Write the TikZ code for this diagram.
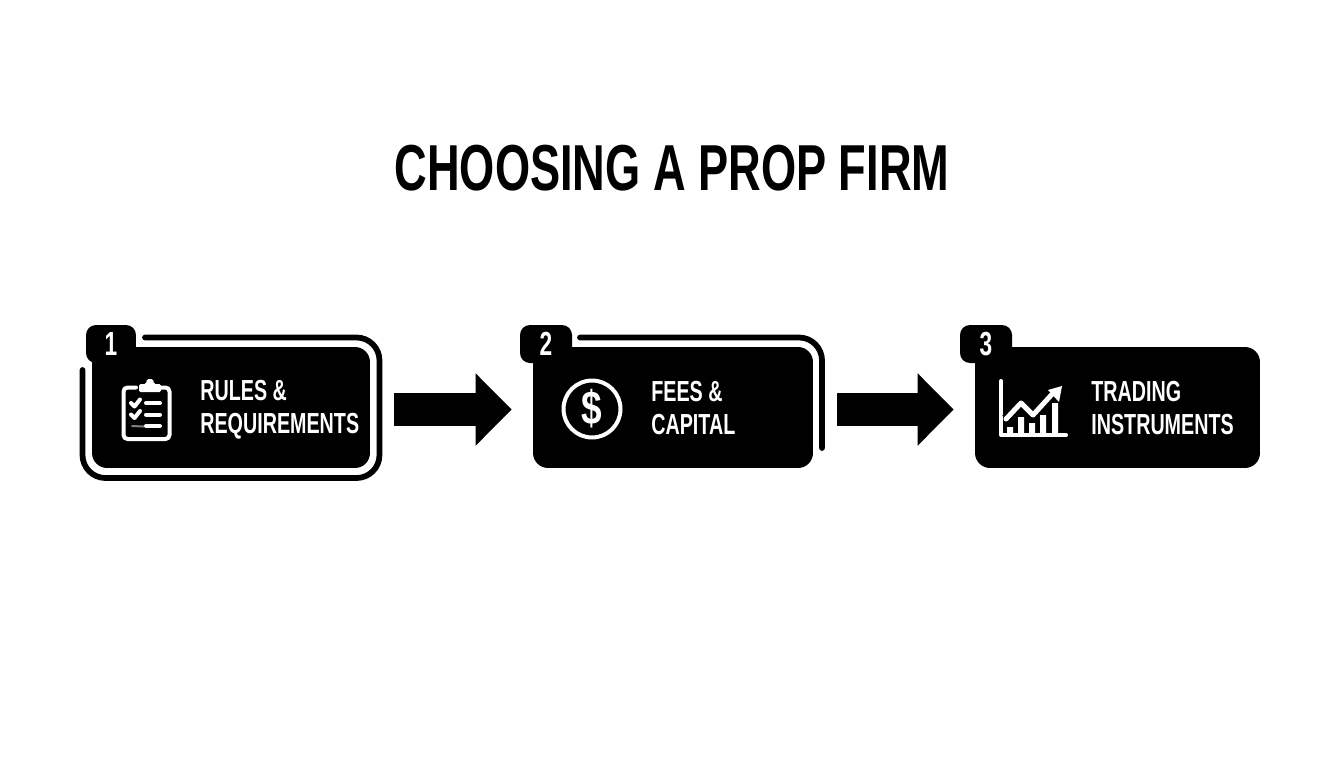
\documentclass[tikz,border=0pt]{standalone}
\usepackage{fontspec}
\usetikzlibrary{arrows.meta}
\newfontfamily\condfont[FakeStretch=0.68]{Liberation Sans}
\newfontfamily\titlefont[FakeStretch=0.695]{Liberation Sans}
\newfontfamily\signfont[FakeStretch=0.78]{Liberation Sans}
\tikzset{
  card/.style={fill=black,rounded corners=.3cm,inner sep=0pt},
  tagbox/.style={fill=black,rounded corners=.2cm,inner sep=0pt,minimum height=.76cm,text=white,
    font=\condfont\bfseries\fontsize{19}{19}\selectfont},
  cardtext/.style={anchor=west,align=left,text=white,inner sep=0pt,
    font=\condfont\bfseries\fontsize{16.5}{18.6}\selectfont},
  frameline/.style={line width=.115cm,line cap=round,rounded corners=.46cm},
  iconline/.style={white,line width=.08cm,line cap=round,line join=round},
  flowarrow/.style={line width=.66cm,shorten <=.48cm,shorten >=.42cm,
    -{Triangle[length=.72cm,width=1.4cm]}}
}
\begin{document}
\begin{tikzpicture}[x=.02cm,y=-.02cm]
      \useasboundingbox (0,0) rectangle (1344,768);

      \node (title) at (672,168) [font=\titlefont\bfseries\fontsize{37}{37}\selectfont] {CHOOSING A PROP FIRM};

      % cards
      \node (rules) at (231,407.5) [card,minimum width=5.56cm,minimum height=2.42cm] {};
      \node (fees) at (673,407.5) [card,minimum width=5.6cm,minimum height=2.42cm] {};
      \node (trading) at (1117.5,407.5) [card,minimum width=5.7cm,minimum height=2.42cm] {};

      \node (tag1) at (111,344) [tagbox,minimum width=1cm] {1};
      \node (tag2) at (546,344) [tagbox,minimum width=1.04cm] {2};
      \node (tag3) at (986,344) [tagbox,minimum width=1.04cm] {3};

      \draw[frameline] (145,337.5) -- (379.5,337.5) -- (379.5,478) -- (82.5,478) -- (82.5,370);
      \draw[frameline] (580,337.5) -- (822,337.5) -- (822,448);

      \node (rulestext) at (200,410) [cardtext] {RULES \&\\REQUIREMENTS};
      \node (feestext) at (651,408) [cardtext] {FEES \&\\CAPITAL};
      \node (tradingtext) at (1091,408) [cardtext] {TRADING\\INSTRUMENTS};

      \draw[flowarrow] ([yshift=-.04cm]rules.east) -- ([yshift=-.04cm]fees.west);
      \draw[flowarrow] ([yshift=-.04cm]fees.east) -- ([yshift=-.04cm]trading.west);

      % clipboard
      \draw[iconline,rounded corners=.08cm] (136,387.5) -- (123.5,387.5) -- (123.5,439) -- (169.5,439) -- (169.5,387.5) -- (158,387.5);
      \fill[white,rounded corners=.03cm] (139,392) -- (139,384) -- (146,384) -- (147,379) -- (153,379) -- (154,384) -- (161,384) -- (161,392) -- cycle;
      \draw[iconline] (131,403) -- (134.5,406.5) -- (140,399.5);
      \draw[iconline] (131,414.5) -- (134.5,418) -- (140,411);
      \draw[iconline,gray,line width=.04cm] (132,426) -- (144,426.5);
      \draw[iconline] (146,403) -- (160,403) (146,414.5) -- (160,414.5) (146,426) -- (160,426);

      % dollar
      \node (coin) at (592,409) [circle,draw=white,line width=.08cm,minimum size=1.14cm,inner sep=0pt] {};
      \node (dollar) at (592,409) [text=white,inner sep=0pt,font=\signfont\bfseries\fontsize{27}{27}\selectfont] {\$};

      % chart
      \draw[iconline] (1001,381) -- (1001,435) -- (1066,435);
      \fill[white] (1007,427) rectangle (1013,435) (1018,417) rectangle (1024,435)
        (1029,423) rectangle (1035,435) (1040,415) rectangle (1046,435) (1052,403) rectangle (1058,435);
      \draw[black,line width=.2cm] (1006,419) -- (1021,403) -- (1033,415) -- (1054,392);
      \draw[iconline,line width=.1cm] (1006,419) -- (1021,403) -- (1033,415) -- (1055,391);
      \fill[white] (1062,386) -- (1059,402) -- (1048,390) -- cycle;
    \end{tikzpicture}
\end{document}
